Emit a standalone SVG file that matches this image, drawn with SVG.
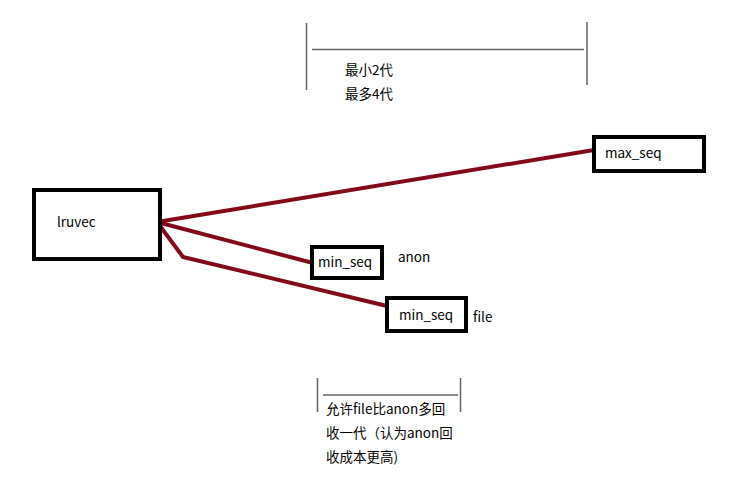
<svg xmlns="http://www.w3.org/2000/svg" width="733" height="489" viewBox="0 0 733 489">
<style>
.box{fill:#fff;stroke:#000;stroke-width:4}
.t{font-family:"Microsoft YaHei","Noto Sans CJK SC","Noto Sans",sans-serif;font-size:13.5px;fill:#000}
.br{stroke:#666;stroke-width:1.5;fill:none}
.c{stroke:#820a18;stroke-width:4;fill:none;stroke-linejoin:round;stroke-linecap:round}
</style>
<rect width="733" height="489" fill="#fff"/>
<g id="bracket-top">
<path class="br" d="M306.5 23V90M587 22V85M312 49.5H584"/>
<text class="t" x="345" y="75">最小2代</text>
<text class="t" x="345" y="99">最多4代</text>
</g>
<g id="bracket-bottom">
<path class="br" d="M317.5 378V412M460.5 378V412M323 395H458"/>
<text class="t" x="326" y="414">允许file比anon多回</text>
<text class="t" x="326" y="438">收一代（认为anon回</text>
<text class="t" x="326" y="462">收成本更高)</text>
</g>
<g id="connectors">
<path class="c" d="M157 222L600 149"/>
<path class="c" d="M157 222L313 263"/>
<path class="c" d="M157 222L183 257L387 306"/>
</g>
<g id="lruvec">
<rect class="box" x="34" y="190" width="126" height="69"/>
<text class="t" x="57" y="227">lruvec</text>
</g>
<g id="max_seq">
<rect class="box" x="594" y="137" width="110" height="34"/>
<text class="t" x="605" y="158">max_seq</text>
</g>
<g id="min_seq_anon">
<rect class="box" x="312" y="247" width="70" height="31"/>
<text class="t" x="318" y="267">min_seq</text>
<text class="t" x="398" y="262">anon</text>
</g>
<g id="min_seq_file">
<rect class="box" x="387" y="298" width="79" height="33"/>
<text class="t" x="399" y="320">min_seq</text>
<text class="t" x="473" y="322">file</text>
</g>
</svg>
